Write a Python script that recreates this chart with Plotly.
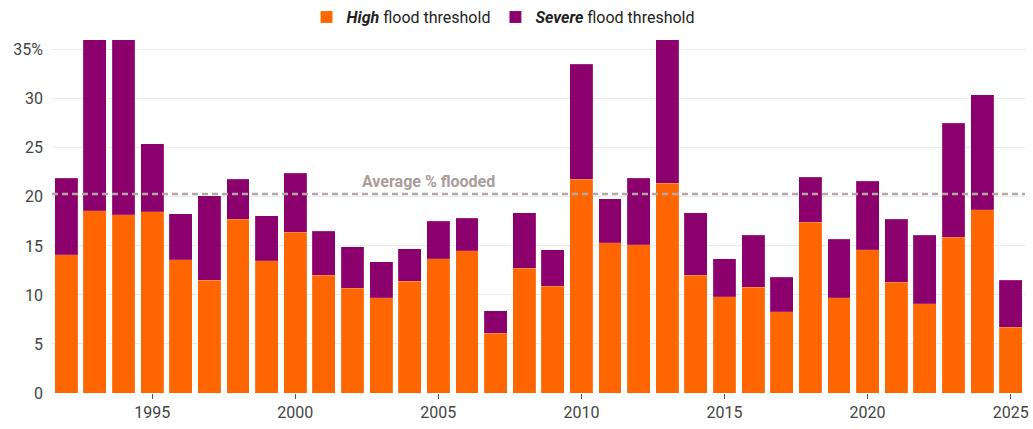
import plotly.graph_objects as go

years = list(range(1992, 2026))
high = [14.1, 18.6, 18.2, 18.5, 13.6, 11.5, 17.7, 13.5, 16.4, 12.0,
        10.7, 9.7, 11.4, 13.7, 14.5, 6.1, 12.7, 10.9, 21.8, 15.3,
        15.1, 21.4, 12.0, 9.8, 10.8, 8.3, 17.4, 9.7, 14.6, 11.3,
        9.1, 15.9, 18.7, 6.7]
total = [21.9, 36.0, 36.0, 25.4, 18.3, 20.1, 21.8, 18.1, 22.4, 16.5,
         14.9, 13.4, 14.7, 17.5, 17.8, 8.4, 18.4, 14.6, 33.5, 19.8,
         21.9, 36.0, 18.4, 13.7, 16.1, 11.8, 22.0, 15.7, 21.6, 17.7,
         16.1, 27.5, 30.4, 11.5]
severe = [round(t - h, 2) for t, h in zip(total, high)]
average_flooded = 20.3

y_ticks = [0, 5, 10, 15, 20, 25, 30, 35]
y_ticktext = ["0", "5", "10", "15", "20", "25", "30", "35%"]
x_ticks = [1995, 2000, 2005, 2010, 2015, 2020, 2025]

ORANGE = "#FF6600"
PURPLE = "#8B006D"
edge = dict(width=0.5, color="rgba(255,255,255,0.3)")

fig = go.Figure()
fig.add_trace(go.Bar(x=years, y=high, name="<b><i>High</i></b> flood threshold",
                     marker=dict(color=ORANGE, line=edge)))
fig.add_trace(go.Bar(x=years, y=severe, name="<b><i>Severe</i></b> flood threshold",
                     marker=dict(color=PURPLE, line=edge)))

fig.add_shape(type="line", xref="paper", yref="y", x0=0, x1=1,
              y0=average_flooded, y1=average_flooded,
              line=dict(color="#b3a6a6", width=2.5, dash="6px,4px"), layer="above")
fig.add_annotation(x=2004.65, y=average_flooded, xref="x", yref="y",
                   text="<b>Average % flooded</b>", showarrow=False,
                   yanchor="bottom", yshift=1,
                   font=dict(family="Roboto", size=16, color="#a99c9c"))

fig.update_layout(
    width=1033, height=429,
    margin=dict(l=52, r=8, t=38, b=36, autoexpand=False),
    barmode="stack", bargap=0.2,
    plot_bgcolor="white", paper_bgcolor="white",
    font=dict(family="Roboto", color="#444"),
    showlegend=True,
    legend=dict(orientation="h", xref="container", yref="container",
                x=0.487, xanchor="center", y=0.96, yanchor="middle",
                font=dict(family="Roboto", size=16, color="#222"),
                traceorder="normal", bgcolor="rgba(0,0,0,0)"),
    xaxis=dict(range=[1991.5, 2025.5], tickvals=x_ticks, showgrid=False, zeroline=False,
               ticks="outside", ticklen=5, tickwidth=1, tickcolor="#555",
               tickfont=dict(family="Roboto", size=16, color="#444"), showline=False),
    yaxis=dict(range=[0, 36.2], tickvals=y_ticks, ticktext=y_ticktext,
               showgrid=True, gridcolor="#ebebeb", gridwidth=1, zeroline=False,
               ticklabelstandoff=8,
               tickfont=dict(family="Roboto", size=16, color="#444")),
)

fig.write_html("out.html", config={"displayModeBar": False},
               post_script="document.body.style.margin='0';document.body.style.overflow='hidden';")
